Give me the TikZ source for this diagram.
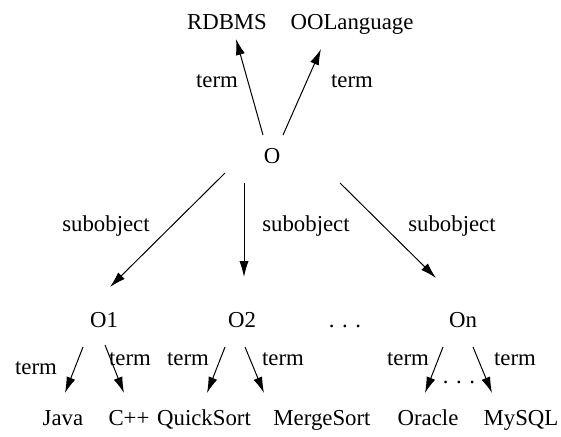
\documentclass[tikz,border=0pt]{standalone}
\usepackage{fontspec}
\setmainfont{Liberation Serif}
\usetikzlibrary{arrows.meta,calc}
\begin{document}
\begin{tikzpicture}[x=0.5pt,y=-0.5pt,
  lbl/.style={anchor=base,inner sep=0pt,font=\fontsize{11.4}{13.5}\selectfont},
  edge/.style={line width=0.5pt,-{Latex[length=8pt,width=4.6pt]}}]
\useasboundingbox (0,0) rectangle (561,436);
% top level
\node[lbl] (rdbms) at (227,29) {RDBMS};
\node[lbl] (ool) at (352,29) {OOLanguage};
\node[lbl] (ta) at (217,87) {term};
\node[lbl] (tb) at (352,87) {term};
\node[lbl] (o) at (272,163) {O};
% subobjects
\node[lbl] (sa) at (106,231) {subobject};
\node[lbl] (sb) at (306,231) {subobject};
\node[lbl] (sc) at (452,231) {subobject};
\node[lbl] (o1) at (104,327) {O1};
\node[lbl] (o2) at (242,327) {O2};
\node[lbl] (dd) at (345,327) {. . .};
\node[lbl] (on) at (463,327) {On};
% terms of the subobjects
\node[lbl] (t1) at (36,374) {term};
\node[lbl] (t2) at (130,365) {term};
\node[lbl] (t3) at (188,365) {term};
\node[lbl] (t4) at (283,365) {term};
\node[lbl] (t5) at (408,365) {term};
\node[lbl] (t6) at (515,365) {term};
\node[lbl] (de) at (459,383) {. . .};
\node[lbl] (java) at (63,425) {Java};
\node[lbl] (cpp) at (129,425) {C++};
\node[lbl] (qs) at (204,425) {QuickSort};
\node[lbl] (ms) at (322,425) {MergeSort};
\node[lbl] (ora) at (428,425) {Oracle};
\node[lbl] (my) at (521,425) {MySQL};
% connectors
\draw[edge] ($(o.base)+(-9,-28)$) -- ($(rdbms.base)+(9,10)$);
\draw[edge] ($(o.base)+(11,-28)$) -- ($(ool.base)+(-31,20)$);
\draw[edge] ($(o.base)+(-47,10)$) -- ($(o1.base)+(6,-40)$);
\draw[edge] ($(o.base)+(-28,20)$) -- ($(o2.base)+(2,-50)$);
\draw[edge] ($(o.base)+(68,20)$) -- ($(on.base)+(-27,-49)$);
\draw[edge] ($(o1.base)+(-21,20)$) -- ($(java.base)+(2,-32)$);
\draw[edge] ($(o1.base)+(1,18)$) -- ($(cpp.base)+(-5,-32)$);
\draw[edge] ($(o2.base)+(-17,20)$) -- ($(qs.base)+(3,-32)$);
\draw[edge] ($(o2.base)+(3,20)$) -- ($(ms.base)+(-58,-32)$);
\draw[edge] ($(on.base)+(-20,20)$) -- ($(ora.base)+(-3,-32)$);
\draw[edge] ($(on.base)+(10,20)$) -- ($(my.base)+(-29,-32)$);
\end{tikzpicture}
\end{document}
